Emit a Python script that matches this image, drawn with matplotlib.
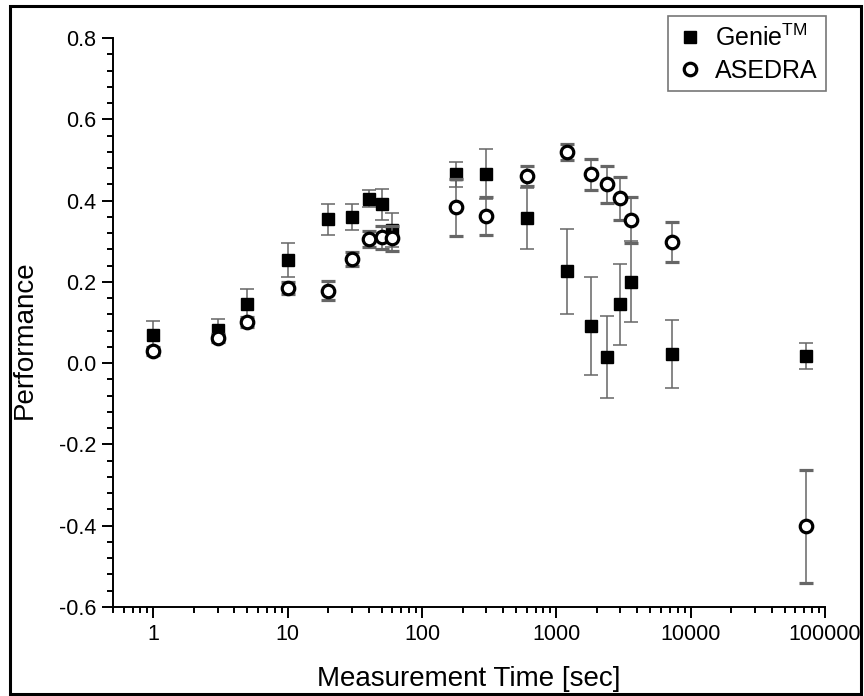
import matplotlib
matplotlib.use("Agg")
import matplotlib.pyplot as plt
from matplotlib.patches import Rectangle
from matplotlib.ticker import (LogLocator, MultipleLocator, FixedFormatter,
                               FixedLocator, FormatStrFormatter)

plt.rcParams["font.family"] = ["Liberation Sans", "DejaVu Sans"]
plt.rcParams["mathtext.fontset"] = "custom"
plt.rcParams["mathtext.rm"] = "Liberation Sans"

# measurement times [sec]
TIME = [1, 3, 5, 10, 20, 30, 40, 50, 60, 180, 300, 600,
        1200, 1800, 2400, 3000, 3600, 7200, 72000]

# Genie(TM) performance and error
GENIE = [0.069, 0.081, 0.145, 0.253, 0.354, 0.36, 0.404, 0.391, 0.327,
         0.465, 0.466, 0.356, 0.226, 0.091, 0.015, 0.145, 0.2, 0.022, 0.017]
GENIE_ERR = [0.034, 0.027, 0.037, 0.042, 0.038, 0.032, 0.021, 0.038, 0.042,
             0.031, 0.062, 0.075, 0.105, 0.121, 0.1, 0.1, 0.1, 0.083, 0.032]

# ASEDRA performance and error
ASEDRA = [0.030, 0.062, 0.101, 0.184, 0.178, 0.256, 0.305, 0.31, 0.307,
          0.384, 0.362, 0.46, 0.52, 0.465, 0.44, 0.406, 0.352, 0.298, -0.401]
ASEDRA_ERR = [0.01, 0.01, 0.012, 0.015, 0.023, 0.018, 0.02, 0.028, 0.03,
              0.07, 0.046, 0.025, 0.02, 0.038, 0.045, 0.053, 0.057, 0.049, 0.139]

XTICKS = [1, 10, 100, 1000, 10000, 100000]
XTICK_LABELS = ["1", "10", "100", "1000", "10000", "100000"]

fig = plt.figure(figsize=(8.64, 6.96), dpi=100)
ax = fig.add_axes([0.1308, 0.1279, 0.8241, 0.8175])

errkw = dict(ecolor="#666666", elinewidth=1.1, capsize=4.7, capthick=1.1, linestyle="none")
eb1 = ax.errorbar(TIME, GENIE, yerr=GENIE_ERR, fmt="s", color="black", ms=9,
                  mfc="black", mec="black", zorder=3, **errkw)
eb2 = ax.errorbar(TIME, ASEDRA, yerr=ASEDRA_ERR, fmt="o", color="black", ms=9,
                  mfc="white", mec="black", mew=2.3, zorder=4, **errkw)

ax.set_xscale("log")
ax.set_xlim(0.5, 100000)
ax.set_ylim(-0.6, 0.8)
ax.xaxis.set_major_locator(FixedLocator(XTICKS))
ax.xaxis.set_major_formatter(FixedFormatter(XTICK_LABELS))
ax.xaxis.set_minor_locator(LogLocator(base=10, subs=range(2, 10)))
ax.yaxis.set_major_locator(MultipleLocator(0.2))
ax.yaxis.set_minor_locator(MultipleLocator(0.04))
ax.yaxis.set_major_formatter(FormatStrFormatter("%.1f"))

ax.tick_params(which="major", direction="out", length=8, width=1.4,
               labelsize=15.5, pad=4)
ax.tick_params(which="minor", direction="out", length=4.5, width=1.4)
ax.spines[["top", "right"]].set_visible(False)
ax.spines[["left", "bottom"]].set_linewidth(1.4)

ax.set_xlabel("Measurement Time [sec]", fontsize=20)
ax.set_ylabel("Performance", fontsize=20)
ax.xaxis.set_label_coords(0.5, -0.103)
ax.yaxis.set_label_coords(-0.105, 0.47)

leg = ax.legend([eb1[0], eb2[0]], [r"Genie$^{\mathrm{TM}}$", "ASEDRA"],
                loc="upper right", bbox_to_anchor=(826 / 864, 1 - 16 / 696),
                bbox_transform=fig.transFigure, fontsize=18, frameon=True,
                fancybox=False, edgecolor="#777777", borderpad=0.35,
                handletextpad=0.5, handlelength=1.0, labelspacing=0.3,
                borderaxespad=0, framealpha=1)
leg.get_frame().set_linewidth(1.2)

fig.patches.append(Rectangle((10 / 864, 2 / 696), 851 / 864, 688 / 696,
                             transform=fig.transFigure, fill=False,
                             edgecolor="black", linewidth=2.2))

fig.savefig("out.png", dpi=100)
